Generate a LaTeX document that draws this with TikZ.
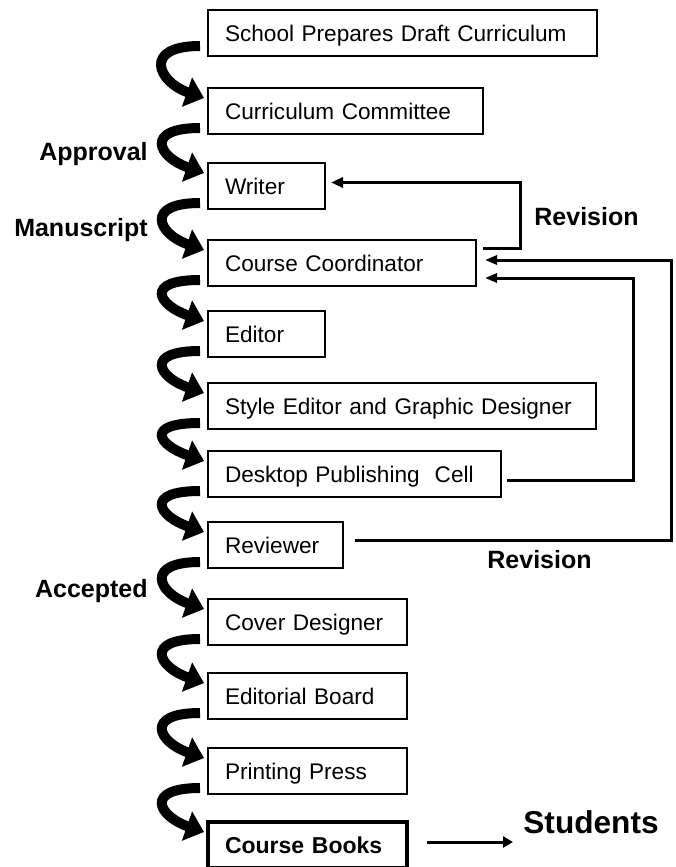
\documentclass[tikz,border=0pt]{standalone}
\usepackage{fontspec}
\setmainfont{Liberation Sans}
\usepackage{tikz}
\usetikzlibrary{arrows.meta, positioning}
\tikzstyle{stagebox} = [rectangle, draw=black, line width=1.2pt, outer sep=0pt, minimum height=23pt, inner xsep=8.5pt, inner ysep=0pt, align=left, text height=8.1pt, text depth=0pt, font=\fontsize{11.3}{13}\selectfont]
\tikzstyle{flow} = [line width=5pt, -{Triangle[width=15pt,length=9pt]}]
\tikzstyle{revline} = [line width=1.5pt, -{Triangle[width=5pt,length=6pt]}]
\tikzstyle{note} = [inner sep=1pt, text height=9pt, text depth=0pt, font=\fontsize{12.5}{15}\selectfont\bfseries]

\begin{document}
\begin{tikzpicture}
    \useasboundingbox (0,0) rectangle (337.5pt,-433.5pt);

    % Stages
    \node (school) [stagebox, text width=177.5pt, anchor=north west] at (104pt,-5pt) {School Prepares Draft Curriculum};
    \node (committee) [stagebox, text width=120.5pt, below right=16pt and 0pt of school.south west] {Curriculum Committee};
    \node (writer) [stagebox, text width=41.5pt, below right=14.5pt and 0pt of committee.south west] {Writer};
    \node (cc) [stagebox, text width=117pt, below right=15.5pt and 0pt of writer.south west] {Course Coordinator};
    \node (editor) [stagebox, text width=41.5pt, below right=12.5pt and 0pt of cc.south west] {Editor};
    \node (style) [stagebox, text width=177pt, below right=13pt and 0pt of editor.south west] {Style Editor and Graphic Designer};
    \node (dtp) [stagebox, text width=129.5pt, below right=11pt and 0pt of style.south west] {Desktop Publishing\ \ Cell};
    \node (reviewer) [stagebox, text width=50.5pt, below right=12.5pt and 0pt of dtp.south west] {Reviewer};
    \node (cover) [stagebox, text width=82.5pt, below right=15.5pt and 0pt of reviewer.south west] {Cover Designer};
    \node (board) [stagebox, text width=82.5pt, below right=14pt and 0pt of cover.south west] {Editorial Board};
    \node (press) [stagebox, text width=82.5pt, below right=14.5pt and 0pt of board.south west] {Printing Press};
    \node (books) [stagebox, text width=82.5pt, line width=1.8pt, font=\fontsize{11.5}{13}\selectfont\bfseries, below right=14pt and 0pt of press.south west] {Course Books};
    \node (students) [note, font=\fontsize{15.8}{18}\selectfont\bfseries, text height=11.3pt, right=57pt of books, yshift=11.25pt] {Students};

    % Labels
    \node (approval) [note, left=29pt of writer.west, yshift=17.25pt] {Approval};
    \node (manuscript) [note, left=29pt of cc.west, yshift=18pt] {Manuscript};
    \node (accepted) [note, left=29pt of cover.west, yshift=17pt] {Accepted};
    \node (revtop) [note, right=28pt of cc.east, yshift=23.5pt] {Revision};
    \node (revlow) [note, right=71pt of reviewer.east, yshift=-7.25pt] {Revision};

    % Flow
    \draw [flow] ([xshift=-4pt,yshift=5pt]school.south west) .. controls +(-29pt,0pt) and +(-23pt,8pt) .. ([xshift=-2pt,yshift=-5pt]committee.north west);
    \draw [flow] ([xshift=-4pt,yshift=3pt]committee.south west) .. controls +(-28pt,0pt) and +(-23pt,8pt) .. ([xshift=-2pt,yshift=-5pt]writer.north west);
    \draw [flow] ([xshift=-4pt,yshift=3pt]writer.south west) .. controls +(-28pt,0pt) and +(-23pt,8pt) .. ([xshift=-2pt,yshift=-5pt]cc.north west);
    \draw [flow] ([xshift=-4pt,yshift=3pt]cc.south west) .. controls +(-28pt,0pt) and +(-23pt,8pt) .. ([xshift=-2pt,yshift=-5pt]editor.north west);
    \draw [flow] ([xshift=-4pt,yshift=3pt]editor.south west) .. controls +(-28pt,0pt) and +(-23pt,8pt) .. ([xshift=-2pt,yshift=-5pt]style.north west);
    \draw [flow] ([xshift=-4pt,yshift=3pt]style.south west) .. controls +(-28pt,0pt) and +(-23pt,8pt) .. ([xshift=-2pt,yshift=-5pt]dtp.north west);
    \draw [flow] ([xshift=-4pt,yshift=3pt]dtp.south west) .. controls +(-28pt,0pt) and +(-23pt,8pt) .. ([xshift=-2pt,yshift=-5pt]reviewer.north west);
    \draw [flow] ([xshift=-4pt,yshift=3pt]reviewer.south west) .. controls +(-28pt,0pt) and +(-23pt,8pt) .. ([xshift=-2pt,yshift=-5pt]cover.north west);
    \draw [flow] ([xshift=-4pt,yshift=3pt]cover.south west) .. controls +(-28pt,0pt) and +(-23pt,8pt) .. ([xshift=-2pt,yshift=-5pt]board.north west);
    \draw [flow] ([xshift=-4pt,yshift=3pt]board.south west) .. controls +(-28pt,0pt) and +(-23pt,8pt) .. ([xshift=-2pt,yshift=-5pt]press.north west);
    \draw [flow] ([xshift=-4pt,yshift=3pt]press.south west) .. controls +(-28pt,0pt) and +(-23pt,8pt) .. ([xshift=-2pt,yshift=-5pt]books.north west);

    % Revision loops
    \draw [revline] ([xshift=3.5pt,yshift=7.5pt]cc.east) -- ++(18.5pt,0) |- ([xshift=3pt,yshift=1.75pt]writer.east);
    \draw [revline, -{Triangle[width=4.5pt,length=6pt]}] ([xshift=6pt,yshift=2.5pt]reviewer.east) -- ++(158pt,0) |- ([xshift=4.5pt,yshift=1.5pt]cc.east);
    \draw [revline, -{Triangle[width=4.5pt,length=6pt]}] ([xshift=3pt,yshift=-3pt]dtp.east) -- ++(63pt,0) |- ([xshift=4.5pt,yshift=-7.5pt]cc.east);

    % Output
    \draw [line width=1.5pt, -{Triangle[width=5.5pt,length=5pt]}, shorten <=10pt, shorten >=4pt] ([yshift=1.5pt]books.east) -- ([yshift=1.5pt]books.east -| students.west);
\end{tikzpicture}
\end{document}
